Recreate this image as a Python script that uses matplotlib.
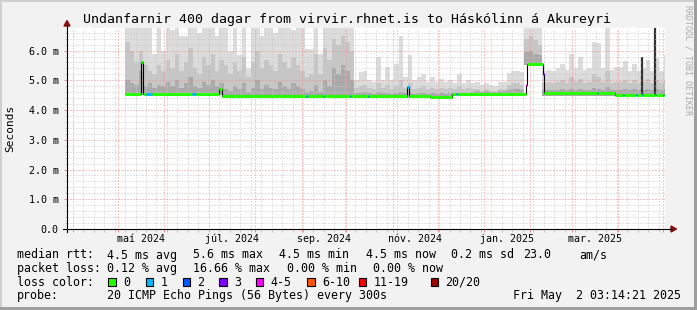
import datetime as dt
import numpy as np
import matplotlib
matplotlib.use("Agg")
import matplotlib.pyplot as plt
from matplotlib.patches import Rectangle, Polygon
from matplotlib.lines import Line2D
import matplotlib.transforms as mtransforms

# ---------------- data ----------------
t_end = dt.datetime(2025, 5, 2, 3, 14, 21)
span_days = 400
t_start = t_end - dt.timedelta(days=span_days)

title = "Undanfarnir 400 dagar from virvir.rhnet.is to Háskólinn á Akureyri"
y_label = "Seconds"
y_ticks_ms = [0, 1, 2, 3, 4, 5, 6]
y_tick_labels = ["0.0", "1.0 m", "2.0 m", "3.0 m", "4.0 m", "5.0 m", "6.0 m"]
label_months = [(2024, 5), (2024, 7), (2024, 9), (2024, 11), (2025, 1), (2025, 3)]
x_tick_labels = ["maí 2024", "júl. 2024", "sep. 2024", "nóv. 2024", "jan. 2025", "mar. 2025"]

# smoke columns (ms), one value per 3-day column starting at day 39
smoke_first_day = 39
smoke_step_days = 3
smoke_max = [
    6.8, 6.8, 6.8, 6.8, 6.8, 6.8, 5.9, 6.8, 6.0, 6.8,
    6.7, 6.8, 6.5, 6.5, 6.8, 6.8, 6.6, 6.8, 6.8, 6.8,
    6.5, 6.8, 6.8, 6.0, 6.8, 5.85, 6.8, 5.4, 6.8, 6.8,
    6.5, 6.8, 6.8, 6.6, 6.8, 6.8, 6.8, 6.7, 6.8, 6.8,
    6.05, 6.05, 6.8, 5.9, 6.8, 6.8, 6.8, 6.8, 6.8, 6.8,
    6.8, 5.0, 5.27, 5.3, 5.0, 4.95, 5.78, 5.0, 5.44, 5.0,
    5.55, 6.5, 5.1, 5.84, 5.0, 5.1, 5.2, 4.95, 5.1, 4.95,
    5.05, 4.95, 5.0, 4.9, 5.2, 4.9, 5.0, 4.9, 4.95, 4.85,
    4.9, 4.85, 4.8, 4.95, 4.95, 5.25, 5.3, 5.3, 5.28, 6.8,
    6.8, 6.8, 6.8, 5.3, 5.35, 5.3, 5.4, 5.55, 5.35, 5.88,
    5.4, 5.78, 5.35, 5.4, 6.3, 6.25, 5.4, 6.8, 5.35, 5.45,
    5.44, 5.65, 5.3, 5.55, 5.3, 5.4, 5.7, 5.3, 5.75, 5.3,
    5.85]
smoke_mid = [
    6.3, 6.0, 5.6, 6.0, 5.5, 5.3, 5.2, 5.5, 5.3, 5.7,
    5.4, 5.9, 5.3, 5.6, 6.1, 5.4, 5.2, 5.8, 5.5, 5.9,
    5.3, 5.7, 5.5, 5.2, 5.6, 5.3, 5.8, 5.1, 5.6, 6.0,
    5.4, 5.7, 5.5, 5.3, 5.9, 5.6, 5.4, 5.8, 5.5, 5.3,
    5.1, 5.2, 5.9, 5.2, 6.1, 5.7, 6.4, 6.2, 6.5, 6.3,
    6.0,
    4.75, 4.8, 4.85, 4.75, 4.7, 4.9, 4.75, 4.85, 4.7, 4.8,
    5.0, 4.75, 4.9, 4.7, 4.75, 4.8, 4.7, 4.75, 4.7, 4.75,
    4.7, 4.75, 4.7, 4.8, 4.7, 4.75, 4.7, 4.7, 4.65, 4.7,
    4.65, 4.65, 4.7, 4.7, 4.85, 4.9, 4.9, 4.85,
    6.4, 6.5, 6.35, 6.2,
    4.9, 4.95, 4.9, 4.95, 5.0, 4.9, 5.1, 4.95, 5.05, 4.9,
    4.95, 5.2, 5.1, 4.95, 5.3, 4.9, 4.95, 4.95, 5.0, 4.9,
    5.0, 4.9, 4.95, 5.05, 4.9, 5.0, 4.9, 5.0]
smoke_dark = [
    5.0, 4.9, 4.85, 5.3, 4.8, 4.9, 4.75, 4.85, 4.8, 4.95,
    4.8, 5.0, 4.75, 4.9, 5.1, 4.8, 4.75, 4.95, 4.85, 5.0,
    4.8, 4.9, 4.7, 4.65, 4.8, 4.7, 4.9, 4.6, 4.75, 5.0,
    4.7, 4.85, 4.75, 4.7, 4.95, 4.8, 4.7, 4.9, 4.8, 4.7,
    4.6, 4.65, 4.85, 4.6, 5.0, 4.8, 5.4, 5.2, 5.5, 5.3,
    5.0,
    4.56, 4.58, 4.6, 4.56, 4.55, 4.6, 4.56, 4.58, 4.55, 4.57,
    4.6, 4.56, 4.58, 4.55, 4.56, 4.57, 4.55, 4.56, 4.55, 4.56,
    4.55, 4.56, 4.55, 4.57, 4.55, 4.56, 4.62, 4.64, 4.62, 4.64,
    4.62, 4.62, 4.64, 4.64, 4.68, 4.7, 4.7, 4.68,
    5.95, 6.0, 5.9, 5.85,
    4.66, 4.68, 4.66, 4.68, 4.7, 4.66, 4.72, 4.68, 4.7, 4.66,
    4.68, 4.75, 4.72, 4.68, 4.78, 4.66, 4.68, 4.68, 4.7, 4.66,
    4.7, 4.66, 4.68, 4.7, 4.66, 4.7, 4.66, 4.7]
# lower edge of the smoke (ms), piecewise by period start day
smoke_low_days = [39, 105, 243, 258, 306, 318]
smoke_low_vals = [4.50, 4.42, 4.38, 4.50, 5.50, 4.48]

# median rtt steps (ms): start day of each step, value, loss bucket
med_day = [39.1, 49.5, 50.8, 52.8, 56.9, 83.6, 86.3, 102.0, 103.7, 159.9,
           161.5, 171.2, 172.2, 189.3, 190.3, 201.3, 202.3, 227.4, 228.8, 242.8,
           257.5, 260.3, 261.3, 307.0, 307.7, 318.4, 319.1, 354.5, 355.3, 366.6,
           371.9, 372.7, 380.6, 381.4, 384.6, 385.4, 393.3, 394.1, 398.7, 399.5,
           400.0]
med_val = [4.54, 5.60, 4.54, 4.54, 4.54, 4.54, 4.54, 4.72, 4.47, 4.47,
           4.47, 4.47, 4.47, 4.47, 4.47, 4.47, 4.47, 4.79, 4.47, 4.43,
           4.54, 4.54, 4.54, 4.85, 5.56, 5.22, 4.56, 4.56, 4.56, 4.51,
           4.51, 4.51, 4.51, 4.51, 4.51, 4.51, 4.51, 4.51, 4.51, 4.51]
med_loss = [0, 0, 0, 1, 0, 1, 0, 0, 0, 1,
            0, 1, 0, 1, 0, 1, 0, 1, 0, 0,
            0, 1, 0, 4, 0, 3, 0, 1, 0, 0,
            1, 0, 1, 0, 1, 0, 1, 0, 1, 0]

# isolated high outliers
spike_day = [384.3, 393.0]
spike_base = [4.51, 4.51]
spike_top = [5.78, 6.76]

loss_labels = ["0", "1", "2", "3", "4-5", "6-10", "11-19", "20/20"]
loss_colors = ["#26ff00", "#00b8ff", "#0059ff", "#7e00ff",
               "#ff00ff", "#ff5500", "#ff0000", "#a10000"]

rtt_avg, rtt_max, rtt_min, rtt_now, rtt_sd = 4.5, 5.6, 4.5, 4.5, 0.2
rtt_am_s = 23.0
loss_avg, loss_max, loss_min, loss_now = 0.12, 16.66, 0.00, 0.00
probe_text = "20 ICMP Echo Pings (56 Bytes) every 300s"
stamp_text = "Fri May  2 03:14:21 2025"
watermark = "RRDTOOL / TOBI OETIKER"

# ---------------- style ----------------
W, H = 697, 310
MONO = "DejaVu Sans Mono"
plt.rcParams["font.family"] = [MONO, "DejaVu Sans"]
BACK = "#F2F2F2"
GRID = "#C8C8C8"
MGRID = "#EE9090"
ARROW = "#8B1010"


def fx(x):
    return x / W


def fy(y):
    return 1 - y / H


def day_of(d):
    return (d - t_start).total_seconds() / 86400.0


fig = plt.figure(figsize=(W / 100, H / 100), dpi=100)
fig.patch.set_facecolor(BACK)

ax = fig.add_axes([fx(67), fy(229), 598 / W, 201 / H])
ax.set_facecolor("white")
ax.set_xlim(0, span_days)
ax.set_ylim(0, 6.76)
for s in ax.spines.values():
    s.set_visible(False)

# smoke
edges = np.append(np.arange(smoke_first_day, span_days, smoke_step_days), span_days)
low_idx = np.searchsorted(smoke_low_days, edges[:-1], side="right") - 1
low = np.array(smoke_low_vals)[low_idx]
ax.stairs(smoke_max, edges, baseline=low, fill=True, color="#DCDCDC", lw=0, zorder=1)
ax.stairs(smoke_mid, edges, baseline=low, fill=True, color="#C6C6C6", lw=0, zorder=1.1)
ax.stairs(smoke_dark, edges, baseline=low, fill=True, color="#A9A9A9", lw=0, zorder=1.2)
ax.vlines(spike_day, spike_base, spike_top, colors="#333333", lw=1.6, zorder=1.3)

# grid
month_days = []
y, m = 2024, 4
while True:
    d = day_of(dt.datetime(y, m, 1))
    if d > span_days:
        break
    month_days.append(d)
    m += 1
    if m > 12:
        m, y = 1, y + 1
week_days = []
wk = dt.datetime(2024, 4, 1)  # Monday
while day_of(wk) <= span_days:
    if day_of(wk) >= 0:
        week_days.append(day_of(wk))
    wk += dt.timedelta(days=7)

ax.set_xticks(month_days)
ax.set_xticks(week_days, minor=True)
ax.set_xticklabels([])
ax.set_yticks(y_ticks_ms)
ax.set_yticklabels(y_tick_labels, fontsize=7.2, family=MONO)
ax.set_yticks(np.arange(0.2, 6.76, 0.2), minor=True)
ax.set_axisbelow(False)
ax.grid(which="minor", color=GRID, lw=0.72, ls=(0, (1, 2)))
ax.grid(which="major", color=MGRID, lw=0.72, ls=(0, (1, 2)))
ax.tick_params(which="major", length=2.5, width=0.72, color=MGRID, pad=3.5)
ax.tick_params(which="minor", length=1.8, width=0.72, color=GRID)

# median line
ax.stairs(med_val, med_day, baseline=None, color="black", lw=0.8, zorder=4)
ax.hlines(med_val, med_day[:-1], med_day[1:],
          colors=[loss_colors[i] for i in med_loss], lw=2.2, zorder=5,
          capstyle="butt")

# x labels centred within their month
trans = mtransforms.blended_transform_factory(ax.transData, fig.transFigure)
for (yy, mm), lab in zip(label_months, x_tick_labels):
    a = day_of(dt.datetime(yy, mm, 1))
    nm = (yy + mm // 12, mm % 12 + 1)
    b = day_of(dt.datetime(nm[0], nm[1], 1))
    ax.text((a + b) / 2, fy(242), lab, transform=trans, ha="center",
            va="baseline", fontsize=7.2, family=MONO)

# axes with arrows
ftr = fig.transFigure
fig.add_artist(Line2D([fx(63), fx(672)], [fy(229), fy(229)], color="black",
                      lw=0.8, transform=ftr))
fig.add_artist(Line2D([fx(67), fx(67)], [fy(232), fy(25)], color="black",
                      lw=0.8, transform=ftr))
fig.add_artist(Polygon([(fx(671), fy(226)), (fx(676.5), fy(229)), (fx(671), fy(232))],
                       closed=True, color=ARROW, transform=ftr))
fig.add_artist(Polygon([(fx(64), fy(26)), (fx(67), fy(20.5)), (fx(70), fy(26))],
                       closed=True, color=ARROW, transform=ftr))

# title, labels
fig.text(fx(347), fy(23.5), title, ha="center", va="baseline", fontsize=9.5,
         family=MONO)
fig.text(fx(10.5), fy(128.5), y_label, rotation=90, ha="center", va="center",
         fontsize=8, family=MONO)
fig.text(fx(688), fy(5), watermark, rotation=270, ha="center", va="top",
         fontsize=6, family=MONO, color="#AAAAAA")

# legend
LF = 8.35
rows = [
    (258.5, [("median rtt:", 16.7), (f"{rtt_avg:.1f} ms avg", 107.3),
             (f"{rtt_max:.1f} ms max", 192.7), (f"{rtt_min:.1f} ms min", 279.3),
             (f"{rtt_now:.1f} ms now", 366.0), (f"{rtt_sd:.1f} ms sd", 451.0),
             (f"{rtt_am_s:.1f}", 522.7), ("am/s", 579.0)]),
    (272.0, [("packet loss:", 16.7), (f"{loss_avg:.2f} % avg", 107.3),
             (f"{loss_max:.2f} % max", 192.7), (f"{loss_min:.2f} % min", 286.7),
             (f"{loss_now:.2f} % now", 373.0)]),
    (285.7, [("loss color:", 16.7)]),
    (299.4, [("probe:", 16.7), (probe_text, 107.3), (stamp_text, 513.3)]),
]
for yb, items in rows:
    for txt, xx in items:
        fig.text(fx(xx), fy(yb), txt, ha="left", va="baseline", fontsize=LF,
                 family=MONO)

box_x = [108.3, 145.7, 182.7, 219.3, 256.0, 307.3, 359.0, 430.7]
for bx, col, lab in zip(box_x, loss_colors, loss_labels):
    fig.add_artist(Rectangle((fx(bx), fy(285.7)), 7.4 / W, 7.4 / H,
                             facecolor=col, edgecolor="black", lw=0.8,
                             transform=ftr))
    fig.text(fx(bx + 14.8), fy(285.7), lab, ha="left", va="baseline",
             fontsize=LF, family=MONO)

# frame shading
fig.add_artist(Rectangle((0, fy(2)), 1, 2 / H, color="#CFCFCF", transform=ftr, lw=0))
fig.add_artist(Rectangle((0, 0), 2 / W, 1, color="#CFCFCF", transform=ftr, lw=0))
fig.add_artist(Rectangle((0, 0), 1, 3 / H, color="#9E9E9E", transform=ftr, lw=0))
fig.add_artist(Rectangle((fx(694), 0), 3 / W, 1, color="#9E9E9E", transform=ftr, lw=0))

fig.savefig("out.png", dpi=100, facecolor=BACK)
